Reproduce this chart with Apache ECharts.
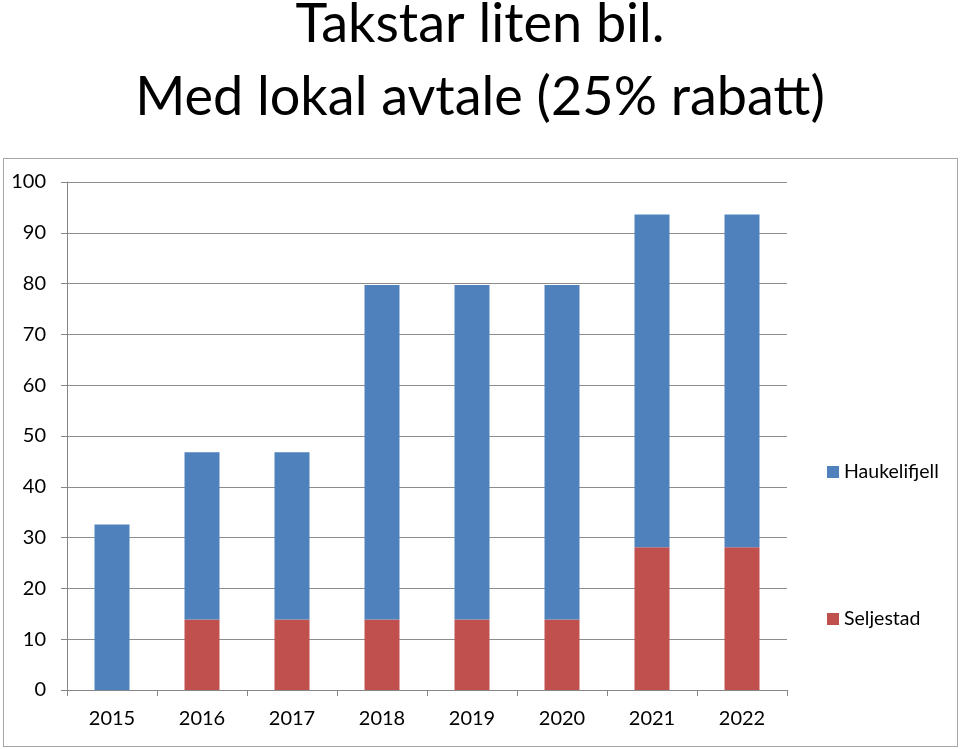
<!DOCTYPE html>
<html>
<head>
<meta charset="utf-8">
<script src="https://cdn.jsdelivr.net/npm/echarts@6/dist/echarts.min.js"></script>
<style>
html,body{margin:0;padding:0;background:#fff;}
#frame{position:absolute;left:3px;top:158px;width:953px;height:587px;border:1px solid #a6a6a6;}
#chart{position:absolute;left:0;top:0;width:960px;height:749px;}
</style>
</head>
<body>
<div id="frame"></div>
<div id="chart"></div>
<script>
var categories = ['2015','2016','2017','2018','2019','2020','2021','2022'];
var seljestad = [0, 13.9, 13.9, 13.9, 13.9, 13.9, 28.1, 28.1];
var haukelifjell = [32.6, 32.9, 32.9, 65.8, 65.8, 65.8, 65.5, 65.5];
var yTicks = [0, 10, 20, 30, 40, 50, 60, 70, 80, 90, 100];
var titleText = 'Takstar liten bil.\nMed lokal avtale (25% rabatt)';

var FONT = 'Lato, "Open Sans", sans-serif';
var chart = echarts.init(document.getElementById('chart'), null, {renderer: 'canvas'});
chart.setOption({
  animation: false,
  backgroundColor: 'transparent',
  title: {
    text: titleText,
    left: 'center',
    top: -17,
    textStyle: {fontFamily: FONT, fontSize: 54, fontWeight: 'normal', color: '#000', lineHeight: 73}
  },
  legend: [
    {
      data: ['Haukelifjell'],
      orient: 'vertical',
      left: 822, top: 457,
      itemWidth: 12, itemHeight: 12, itemGap: 8,
      icon: 'rect',
      textStyle: {fontFamily: FONT, fontSize: 19.5, color: '#000'}
    },
    {
      data: ['Seljestad'],
      orient: 'vertical',
      left: 822, top: 604,
      itemWidth: 12, itemHeight: 12, itemGap: 8,
      icon: 'rect',
      textStyle: {fontFamily: FONT, fontSize: 19.5, color: '#000'}
    }
  ],
  grid: {left: 67, right: 173, top: 182, bottom: 59, containLabel: false},
  xAxis: {
    type: 'category',
    data: categories,
    boundaryGap: true,
    axisLine: {lineStyle: {color: '#868686', width: 1}},
    axisTick: {show: true, inside: false, length: 6, alignWithLabel: false, lineStyle: {color: '#868686'}},
    axisLabel: {fontFamily: FONT, fontSize: 20, color: '#000', margin: 19}
  },
  yAxis: {
    type: 'value',
    min: 0, max: 100, interval: 10,
    axisLine: {show: true, lineStyle: {color: '#868686', width: 1}},
    axisTick: {show: true, inside: false, length: 6, lineStyle: {color: '#868686'}},
    axisLabel: {fontFamily: FONT, fontSize: 20, color: '#000', margin: 21,
      formatter: function (v) { return yTicks.indexOf(v) >= 0 ? String(v) : ''; }},
    splitLine: {show: true, lineStyle: {color: '#8c8c8c', width: 1}}
  },
  series: [
    {
      name: 'Seljestad',
      type: 'bar',
      stack: 'total',
      data: seljestad,
      barWidth: 35,
      itemStyle: {color: '#C0504D'}
    },
    {
      name: 'Haukelifjell',
      type: 'bar',
      stack: 'total',
      data: haukelifjell,
      barWidth: 35,
      itemStyle: {color: '#4F81BD'}
    }
  ]
});
</script>
</body>
</html>
